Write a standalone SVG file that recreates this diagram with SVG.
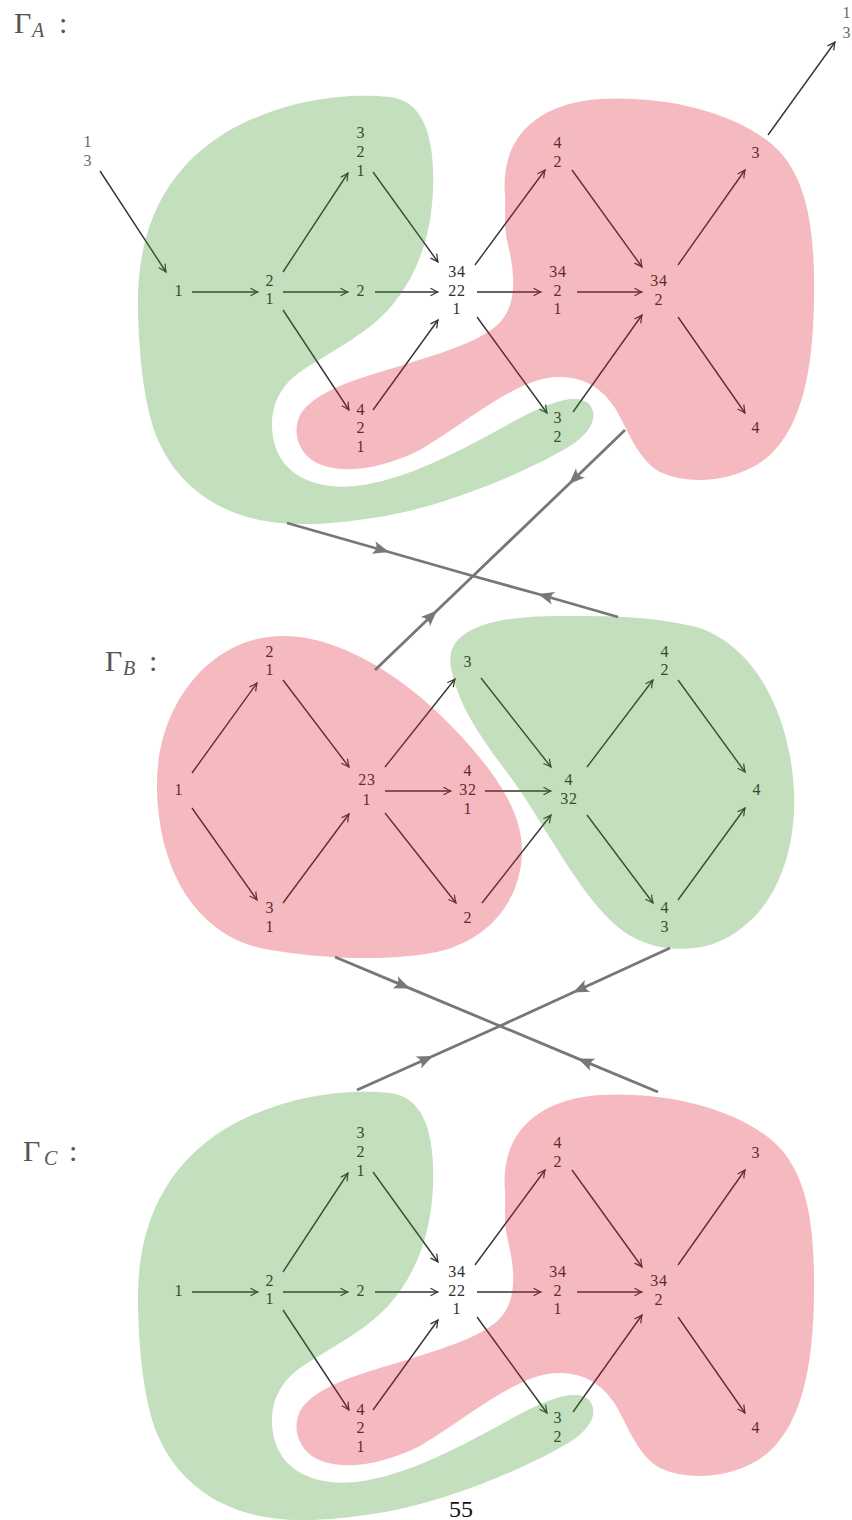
<svg xmlns="http://www.w3.org/2000/svg" width="852" height="1520" viewBox="0 0 852 1520">
<defs>
<style>
.lbl{font-family:"Liberation Serif","DejaVu Serif",serif;font-size:16px;fill:#2e2e2e;text-anchor:middle;letter-spacing:0.8px}
.ext{fill:#6a6a6a}
.gam{font-family:"Liberation Serif","DejaVu Serif",serif;font-size:30px;fill:#555}
.sub{font-size:20px;font-style:italic}
.e{stroke:#333;stroke-width:1.4;fill:none;marker-end:url(#ah)}
.ca{stroke:#777;stroke-width:2.8;fill:none;marker-mid:url(#big)}
.red{fill:rgb(222,25,45);fill-opacity:0.3}
.grn{fill:rgb(60,150,40);fill-opacity:0.3}
.pg{font-family:"Liberation Serif","DejaVu Serif",serif;font-size:24px;fill:#111;text-anchor:middle}
</style>
<marker id="ah" markerUnits="userSpaceOnUse" markerWidth="14" markerHeight="12" viewBox="-10 -6 12 12" refX="0" refY="0" orient="auto">
<path d="M-7.5,-3.8 Q-2.2,-0.9 0,0 Q-2.2,0.9 -7.5,3.8" fill="none" stroke="#333" stroke-width="1.2"/>
</marker>
<marker id="big" markerUnits="userSpaceOnUse" markerWidth="22" markerHeight="18" viewBox="-18 -9 20 18" refX="0" refY="0" orient="auto">
<path d="M0,0 L-16,-6.5 Q-10.5,0 -16,6.5 Z" fill="#777"/>
</marker>
</defs>

<rect width="852" height="1520" fill="#fff"/>

<!-- Gamma A -->
<g id="gamma-A">
<text class="gam" id="label-A"><tspan x="14" y="33">Γ</tspan><tspan class="sub" x="32" y="37">A</tspan><tspan x="59" y="33">:</tspan></text>
<g id="A-edges">
<path class="e" d="M100,171 L166,272"/>
<path class="e" d="M192,292 L258,292"/>
<path class="e" d="M283,272 L348,173"/>
<path class="e" d="M283,292 L348,292"/>
<path class="e" d="M283,310 L349,410"/>
<path class="e" d="M373,172 L438,262"/>
<path class="e" d="M375,292 L438,292"/>
<path class="e" d="M373,410 L438,320"/>
<path class="e" d="M475,265 L545,170"/>
<path class="e" d="M477,292 L541,292"/>
<path class="e" d="M477,317 L547,413"/>
<path class="e" d="M572,170 L642,267"/>
<path class="e" d="M577,292 L642,292"/>
<path class="e" d="M573,412 L642,315"/>
<path class="e" d="M678,265 L745,170"/>
<path class="e" d="M678,317 L745,413"/>
<path class="e" d="M768,135 L835,42"/>
</g>
<g id="A-nodes">
<g id="A-in"><text class="lbl ext"><tspan x="88" y="147">1</tspan><tspan x="88" y="166">3</tspan></text></g>
<g id="A-out"><text class="lbl ext"><tspan x="847" y="18">1</tspan><tspan x="847" y="38">3</tspan></text></g>
<g id="A-n1"><text class="lbl"><tspan x="179" y="296">1</tspan></text></g>
<g id="A-n21"><text class="lbl"><tspan x="270" y="286">2</tspan><tspan x="270" y="304">1</tspan></text></g>
<g id="A-n321"><text class="lbl"><tspan x="361" y="138">3</tspan><tspan x="361" y="157">2</tspan><tspan x="361" y="176">1</tspan></text></g>
<g id="A-n2"><text class="lbl"><tspan x="361" y="296">2</tspan></text></g>
<g id="A-n34221"><text class="lbl"><tspan x="457" y="277">34</tspan><tspan x="457" y="296">22</tspan><tspan x="457" y="314">1</tspan></text></g>
<g id="A-n421"><text class="lbl"><tspan x="361" y="415">4</tspan><tspan x="361" y="433">2</tspan><tspan x="361" y="452">1</tspan></text></g>
<g id="A-n42"><text class="lbl"><tspan x="558" y="148">4</tspan><tspan x="558" y="167">2</tspan></text></g>
<g id="A-n3421"><text class="lbl"><tspan x="558" y="277">34</tspan><tspan x="558" y="296">2</tspan><tspan x="558" y="314">1</tspan></text></g>
<g id="A-n32"><text class="lbl"><tspan x="558" y="423">3</tspan><tspan x="558" y="442">2</tspan></text></g>
<g id="A-n342"><text class="lbl"><tspan x="659" y="286">34</tspan><tspan x="659" y="305">2</tspan></text></g>
<g id="A-n3"><text class="lbl"><tspan x="756" y="158">3</tspan></text></g>
<g id="A-n4"><text class="lbl"><tspan x="756" y="433">4</tspan></text></g>
</g>
<g id="A-regions">
<path id="A-green" class="grn" d="M138,310 C136,230 165,170 225,133 C280,100 345,92 390,97 C425,101 435,140 433,190 C431,240 415,280 388,310 C365,335 330,352 300,372 C275,390 268,415 274,442 C282,475 315,490 355,486 C410,480 470,445 520,418 C550,402 578,392 590,405 C598,416 592,432 570,446 C530,470 460,500 400,513 C350,523 310,526 280,523 C225,518 180,490 158,440 C145,410 139,360 138,310 Z"/>
<path id="A-red" class="red" d="M505,195 C500,135 540,103 600,99 C670,95 745,115 780,152 C810,185 815,240 814,300 C813,370 802,425 770,455 C740,482 690,486 660,472 C638,460 628,430 615,408 C600,385 580,376 555,377 C515,380 470,420 420,450 C380,470 340,475 315,462 C298,452 292,432 300,415 C315,390 360,378 400,366 C445,352 485,340 502,320 C518,300 514,270 508,245 C503,225 506,210 505,195 Z"/>
</g>
</g>

<!-- Gamma B -->
<g id="gamma-B">
<text class="gam" id="label-B"><tspan x="105" y="671">Γ</tspan><tspan class="sub" x="123" y="675">B</tspan><tspan x="149" y="671">:</tspan></text>
<g id="B-edges">
<path class="e" d="M192,773 L257,683"/>
<path class="e" d="M192,808 L257,900"/>
<path class="e" d="M283,680 L349,767"/>
<path class="e" d="M283,903 L349,814"/>
<path class="e" d="M385,767 L455,679"/>
<path class="e" d="M385,791 L451,791"/>
<path class="e" d="M385,813 L456,903"/>
<path class="e" d="M485,791 L551,791"/>
<path class="e" d="M481,678 L551,767"/>
<path class="e" d="M482,903 L551,815"/>
<path class="e" d="M587,767 L653,680"/>
<path class="e" d="M587,815 L653,903"/>
<path class="e" d="M678,680 L745,772"/>
<path class="e" d="M678,900 L745,808"/>
</g>
<g id="B-nodes">
<g id="B-n1"><text class="lbl"><tspan x="179" y="795">1</tspan></text></g>
<g id="B-n21"><text class="lbl"><tspan x="270" y="657">2</tspan><tspan x="270" y="675">1</tspan></text></g>
<g id="B-n31"><text class="lbl"><tspan x="270" y="913">3</tspan><tspan x="270" y="932">1</tspan></text></g>
<g id="B-n231"><text class="lbl"><tspan x="367" y="785">23</tspan><tspan x="367" y="805">1</tspan></text></g>
<g id="B-n4321"><text class="lbl"><tspan x="468" y="776">4</tspan><tspan x="468" y="795">32</tspan><tspan x="468" y="814">1</tspan></text></g>
<g id="B-n3"><text class="lbl"><tspan x="468" y="667">3</tspan></text></g>
<g id="B-n2"><text class="lbl"><tspan x="468" y="923">2</tspan></text></g>
<g id="B-n432"><text class="lbl"><tspan x="569" y="785">4</tspan><tspan x="569" y="804">32</tspan></text></g>
<g id="B-n42"><text class="lbl"><tspan x="665" y="657">4</tspan><tspan x="665" y="675">2</tspan></text></g>
<g id="B-n43"><text class="lbl"><tspan x="665" y="913">4</tspan><tspan x="665" y="932">3</tspan></text></g>
<g id="B-n4"><text class="lbl"><tspan x="757" y="795">4</tspan></text></g>
</g>
<g id="B-regions">
<path id="B-red" class="red" d="M157,790 C155,705 210,638 280,636 C340,634 410,680 460,735 C500,778 522,815 522,850 C522,895 495,935 445,950 C400,962 320,960 260,948 C195,932 159,870 157,790 Z"/>
<path id="B-green" class="grn" d="M452,672 C440,630 490,616 560,616 C600,616 650,615 700,628 C760,650 790,720 794,790 C797,860 770,925 710,945 C670,955 635,945 610,920 C580,890 555,845 525,798 C500,760 462,720 452,672 Z"/>
</g>
</g>

<!-- Gamma C -->
<g id="gamma-C">
<text class="gam" id="label-C"><tspan x="23" y="1161">Γ</tspan><tspan class="sub" x="44" y="1165">C</tspan><tspan x="69" y="1161">:</tspan></text>
<g id="C-edges" transform="translate(0,1000)">
<path class="e" d="M192,292 L258,292"/>
<path class="e" d="M283,272 L348,173"/>
<path class="e" d="M283,292 L348,292"/>
<path class="e" d="M283,310 L349,410"/>
<path class="e" d="M373,172 L438,262"/>
<path class="e" d="M375,292 L438,292"/>
<path class="e" d="M373,410 L438,320"/>
<path class="e" d="M475,265 L545,170"/>
<path class="e" d="M477,292 L541,292"/>
<path class="e" d="M477,317 L547,413"/>
<path class="e" d="M572,170 L642,267"/>
<path class="e" d="M577,292 L642,292"/>
<path class="e" d="M573,412 L642,315"/>
<path class="e" d="M678,265 L745,170"/>
<path class="e" d="M678,317 L745,413"/>
</g>
<g id="C-nodes" transform="translate(0,1000)">
<g id="C-n1"><text class="lbl"><tspan x="179" y="296">1</tspan></text></g>
<g id="C-n21"><text class="lbl"><tspan x="270" y="286">2</tspan><tspan x="270" y="304">1</tspan></text></g>
<g id="C-n321"><text class="lbl"><tspan x="361" y="138">3</tspan><tspan x="361" y="157">2</tspan><tspan x="361" y="176">1</tspan></text></g>
<g id="C-n2"><text class="lbl"><tspan x="361" y="296">2</tspan></text></g>
<g id="C-n34221"><text class="lbl"><tspan x="457" y="277">34</tspan><tspan x="457" y="296">22</tspan><tspan x="457" y="314">1</tspan></text></g>
<g id="C-n421"><text class="lbl"><tspan x="361" y="415">4</tspan><tspan x="361" y="433">2</tspan><tspan x="361" y="452">1</tspan></text></g>
<g id="C-n42"><text class="lbl"><tspan x="558" y="148">4</tspan><tspan x="558" y="167">2</tspan></text></g>
<g id="C-n3421"><text class="lbl"><tspan x="558" y="277">34</tspan><tspan x="558" y="296">2</tspan><tspan x="558" y="314">1</tspan></text></g>
<g id="C-n32"><text class="lbl"><tspan x="558" y="423">3</tspan><tspan x="558" y="442">2</tspan></text></g>
<g id="C-n342"><text class="lbl"><tspan x="659" y="286">34</tspan><tspan x="659" y="305">2</tspan></text></g>
<g id="C-n3"><text class="lbl"><tspan x="756" y="158">3</tspan></text></g>
<g id="C-n4"><text class="lbl"><tspan x="756" y="433">4</tspan></text></g>
</g>
<g id="C-regions" transform="translate(0,996)">
<path id="C-green" class="grn" d="M138,310 C136,230 165,170 225,133 C280,100 345,92 390,97 C425,101 435,140 433,190 C431,240 415,280 388,310 C365,335 330,352 300,372 C275,390 268,415 274,442 C282,475 315,490 355,486 C410,480 470,445 520,418 C550,402 578,392 590,405 C598,416 592,432 570,446 C530,470 460,500 400,513 C350,523 310,526 280,523 C225,518 180,490 158,440 C145,410 139,360 138,310 Z"/>
<path id="C-red" class="red" d="M505,195 C500,135 540,103 600,99 C670,95 745,115 780,152 C810,185 815,240 814,300 C813,370 802,425 770,455 C740,482 690,486 660,472 C638,460 628,430 615,408 C600,385 580,376 555,377 C515,380 470,420 420,450 C380,470 340,475 315,462 C298,452 292,432 300,415 C315,390 360,378 400,366 C445,352 485,340 502,320 C518,300 514,270 508,245 C503,225 506,210 505,195 Z"/>
</g>
</g>

<!-- connectors between graphs -->
<g id="inter-connectors">
<path class="ca" d="M287,523 L389,552 L473,576"/>
<path class="ca" d="M618,617 L538,594 L473,576"/>
<path class="ca" d="M375,670 L437,610.5 L473,576"/>
<path class="ca" d="M625,430 L569,484 L473,576"/>
<path class="ca" d="M335,957 L410,988.4 L500,1026"/>
<path class="ca" d="M658,1092 L578,1058.6 L500,1026"/>
<path class="ca" d="M670,948 L573,992.5 L500,1026"/>
<path class="ca" d="M357,1090 L433,1056 L500,1026"/>
</g>

<text class="pg" x="461" y="1517">55</text>
</svg>
